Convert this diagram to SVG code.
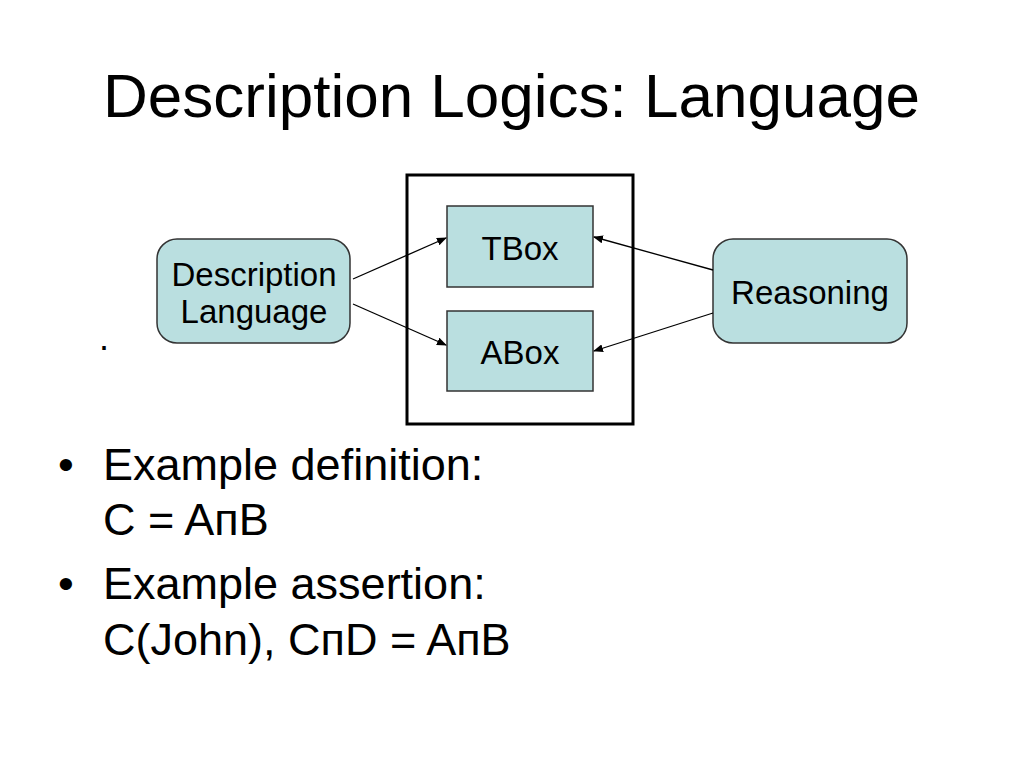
<svg xmlns="http://www.w3.org/2000/svg" width="1024" height="768" viewBox="0 0 1024 768">
<defs>
<marker id="ah" markerWidth="10" markerHeight="8" refX="9" refY="4" orient="auto" markerUnits="userSpaceOnUse">
<path d="M0,0 L10,4 L0,8 Z" fill="#000"/>
</marker>
<style>
.t{font-family:"Liberation Sans",Arial,sans-serif;fill:#000}
.n{fill:#badfe0;stroke:#333;stroke-width:1.5}
.c{stroke:#000;stroke-width:1.3;fill:none;marker-end:url(#ah)}
.b{font-size:45px}
.m{font-size:33px}
</style>
</defs>
<rect width="1024" height="768" fill="#fff"/>
<text class="t" x="103" y="117" font-size="62">Description Logics: Language</text>
<g id="container"><rect x="407" y="175" width="226" height="249" fill="none" stroke="#000" stroke-width="3"/></g>
<g id="tbox"><rect class="n" x="447" y="206" width="146" height="81"/><text class="t m" x="520" y="260" text-anchor="middle">TBox</text></g>
<g id="abox"><rect class="n" x="447" y="311" width="146" height="80"/><text class="t m" x="520" y="364" text-anchor="middle">ABox</text></g>
<g id="desc"><rect class="n" x="157" y="239" width="193" height="104" rx="20"/><text class="t m" x="254" y="286" text-anchor="middle">Description</text><text class="t m" x="254" y="323" text-anchor="middle">Language</text></g>
<g id="reasoning"><rect class="n" x="713" y="239" width="194" height="104" rx="20"/><text class="t m" x="810" y="304" text-anchor="middle">Reasoning</text></g>
<g id="connectors">
<line class="c" x1="353" y1="279" x2="446" y2="238"/>
<line class="c" x1="353" y1="304" x2="446" y2="345"/>
<line class="c" x1="713" y1="270" x2="594" y2="237"/>
<line class="c" x1="713" y1="313" x2="594" y2="351"/>
</g>
<text class="t" x="99" y="350" font-size="36">.</text>
<text class="t b" x="58" y="480">•</text>
<text class="t b" x="103" y="480">Example definition:</text>
<text class="t b" x="103" y="535">C = AпB</text>
<text class="t b" x="58" y="599">•</text>
<text class="t b" x="103" y="599">Example assertion:</text>
<text class="t b" x="103" y="655">C(John), CпD = AпB</text>
</svg>
